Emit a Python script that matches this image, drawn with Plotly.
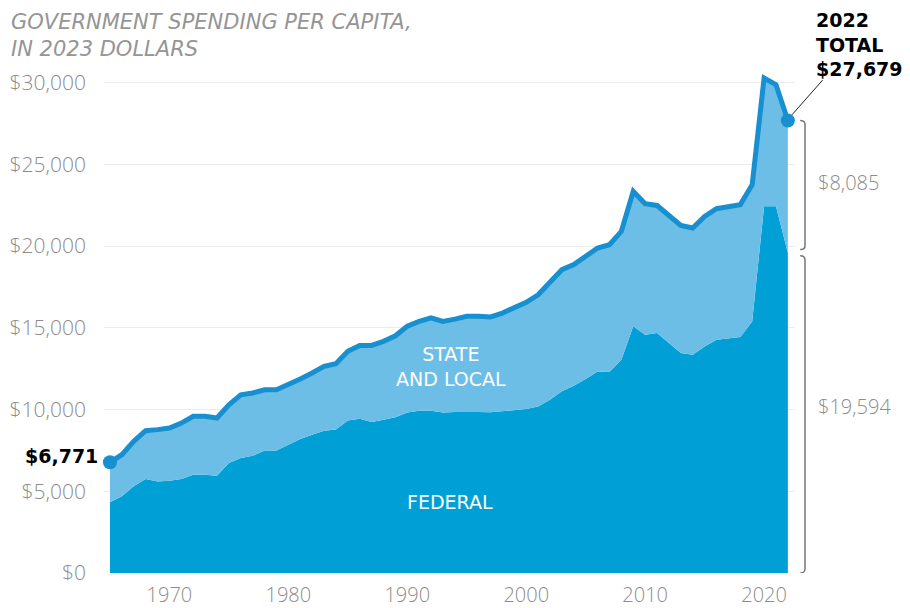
import plotly.graph_objects as go

# Government spending per capita, in 2023 dollars
years = list(range(1965, 2023))

federal = [4320, 4690, 5300, 5750, 5600, 5640, 5750, 6010, 6010, 5950,
           6730, 7030, 7170, 7500, 7500, 7850, 8200, 8460, 8700, 8770,
           9330, 9440, 9240, 9380, 9520, 9820, 9930, 9930, 9820, 9850,
           9870, 9850, 9830, 9890, 9950, 10030, 10190, 10600, 11110, 11460,
           11870, 12330, 12300, 13050, 15090, 14580, 14680, 14070, 13460, 13350,
           13860, 14270, 14370, 14430, 15390, 22430, 22430, 19594]

state_local = [2451, 2545, 2750, 2950, 3170, 3230, 3420, 3570, 3570, 3530,
               3560, 3870, 3840, 3710, 3710, 3670, 3670, 3770, 3940, 4030,
               4230, 4480, 4680, 4790, 4990, 5270, 5460, 5670, 5570, 5680,
               5830, 5850, 5830, 6010, 6260, 6530, 6830, 7240, 7440, 7400,
               7460, 7550, 7780, 7850, 8250, 8010, 7800, 7840, 7800, 7750,
               7950, 8010, 8060, 8100, 8360, 7850, 7440, 8085]

total = [f + s for f, s in zip(federal, state_local)]

y_ticks = [0, 5000, 10000, 15000, 20000, 25000, 30000]
x_ticks = [1970, 1980, 1990, 2000, 2010, 2020]

FED_COLOR = "#00a0d6"
STATE_COLOR = "#6cbee6"
LINE_COLOR = "#1690d0"
GRAY = "#8c8c8c"
FONT = "DejaVu Sans"
LIGHT = "Open Sans"

x_range = [1964.5, 2022.6]

fig = go.Figure()

fig.add_trace(go.Scatter(
    x=years, y=federal, mode="lines", line=dict(width=0),
    fill="tozeroy", fillcolor=FED_COLOR, hoverinfo="skip", name="Federal"))

fig.add_trace(go.Scatter(
    x=years, y=total, mode="lines", line=dict(color=LINE_COLOR, width=5),
    fill="tonexty", fillcolor=STATE_COLOR, name="Total"))

fig.add_trace(go.Scatter(
    x=[years[0], years[-1]], y=[total[0], total[-1]], mode="markers",
    marker=dict(color=LINE_COLOR, size=14), cliponaxis=False, name="ends"))


def px(x_year):
    # paper x for a year value
    return (x_year - x_range[0]) / (x_range[1] - x_range[0])


# brackets on the right for the 2022 split
bx = 1.0145
hx = 1.0075
gap = 190
top, mid = total[-1], federal[-1]
fig.add_shape(type="path", xref="paper", yref="y",
              path=f"M {hx},{top} Q {bx},{top} {bx},{top - 250} L {bx},{mid + gap + 250} "
                   f"Q {bx},{mid + gap} {hx},{mid + gap}",
              line=dict(color="#777777", width=1.5))
fig.add_shape(type="path", xref="paper", yref="y",
              path=f"M {hx},{mid - gap} Q {bx},{mid - gap} {bx},{mid - gap - 250} L {bx},250 "
                   f"Q {bx},0 {hx},0",
              line=dict(color="#777777", width=1.5))

# leader line to the total label
fig.add_shape(type="line", xref="paper", yref="y",
              x0=px(2022) + 0.006, y0=total[-1] + 350, x1=1.04, y1=30150,
              line=dict(color="#222222", width=1))

annotations = [
    dict(text="GOVERNMENT SPENDING PER CAPITA,<br>IN 2023 DOLLARS",
         xref="paper", yref="paper", x=-0.138, y=1.098, xanchor="left", yanchor="top",
         align="left", showarrow=False,
         font=dict(family=FONT, size=21, color="#959595", style="italic")),
    dict(text="<b>$6,771</b>", x=years[0], y=total[0], xanchor="right", yanchor="middle",
         xshift=-10, yshift=6, showarrow=False,
         font=dict(family=FONT, size=19, color="#000000")),
    dict(text="<b>2022<br>TOTAL<br>$27,679</b>", x=years[-1], y=total[-1],
         xanchor="left", yanchor="bottom", align="left", xshift=26, yshift=38,
         showarrow=False, font=dict(family=FONT, size=19, color="#000000")),
    dict(text="$8,085", xref="paper", yref="y", x=1.03, y=(top + mid) / 2,
         xanchor="left", yanchor="middle", yshift=4, showarrow=False,
         font=dict(family=LIGHT, size=20, color=GRAY, weight=300)),
    dict(text="$19,594", xref="paper", yref="y", x=1.03, y=mid / 2,
         xanchor="left", yanchor="middle", yshift=6, showarrow=False,
         font=dict(family=LIGHT, size=20, color=GRAY, weight=300)),
    dict(text="STATE<br>AND LOCAL", x=1993.7, y=12650, showarrow=False,
         font=dict(family=FONT, size=19, color="white")),
    dict(text="FEDERAL", x=1993.6, y=4360, showarrow=False,
         font=dict(family=FONT, size=19, color="white")),
]

# page body has an 8px default margin, so the figure is 8px smaller
fig.update_layout(
    width=902, height=600,
    margin=dict(l=96, r=115, t=50, b=35, autoexpand=False),
    plot_bgcolor="white", paper_bgcolor="white",
    showlegend=False,
    annotations=annotations,
    font=dict(family=FONT, color=GRAY),
    xaxis=dict(range=x_range, tickvals=x_ticks, showgrid=False, zeroline=False,
               showline=False, ticks="", ticklabelstandoff=8, automargin=False,
               tickfont=dict(family=LIGHT, size=20, color=GRAY, weight=300)),
    yaxis=dict(range=[0, 31500], tickvals=y_ticks,
               ticktext=[f"${v:,}" for v in y_ticks],
               showgrid=True, gridcolor="#ececec", gridwidth=1, zeroline=False,
               showline=False, ticks="", ticklabelstandoff=17, automargin=False,
               tickfont=dict(family=LIGHT, size=21, color=GRAY, weight=300)),
)

fig.write_html("out.html")
